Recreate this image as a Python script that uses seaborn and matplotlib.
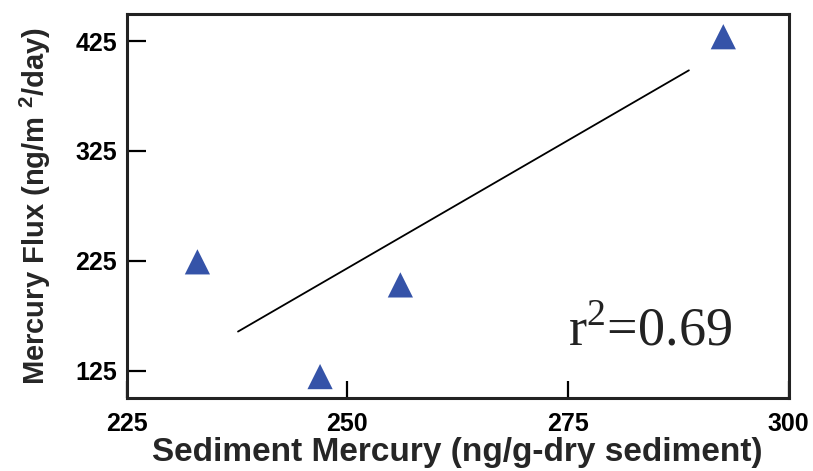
import matplotlib
matplotlib.use("Agg")
import matplotlib.pyplot as plt
import pandas as pd
import seaborn as sns

# Data
sediment_hg = [233.0, 246.9, 256.0, 292.6]
hg_flux = [224.0, 119.5, 203.0, 429.0]
fit_x = [237.6, 288.7]
fit_y = [160.5, 398.4]
x_ticks = [225, 250, 275, 300]
y_ticks = [125, 225, 325, 425]
r2_text = "r$^2$=0.69"

df = pd.DataFrame({"x": sediment_hg, "y": hg_flux})
df_fit = pd.DataFrame({"x": fit_x, "y": fit_y})

sns.set_style("white")
plt.rcParams["font.family"] = ["Liberation Sans", "DejaVu Sans"]
plt.rcParams["mathtext.fontset"] = "custom"
plt.rcParams["mathtext.rm"] = "Liberation Serif"
plt.rcParams["mathtext.bf"] = "Liberation Sans:bold"

fig = plt.figure(figsize=(8.13, 4.71), dpi=100)
ax = fig.add_axes([0.156, 0.155, 0.814, 0.816])

sns.lineplot(data=df_fit, x="x", y="y", ax=ax, color="black", linewidth=1.3)
sns.scatterplot(data=df, x="x", y="y", ax=ax, marker="^", s=330,
                color="#3553a8", edgecolor="none", zorder=3)

ax.set_xlim(225, 300)
ax.set_ylim(100, 450)
ax.set_xticks(x_ticks)
ax.set_yticks(y_ticks)
ax.tick_params(axis="both", direction="in", width=1.6,
               labelsize=18, colors="black", bottom=True, left=True,
               top=False, right=False)
ax.tick_params(axis="x", pad=10, length=12)
ax.tick_params(axis="y", pad=7, length=14)
for lab in ax.get_xticklabels() + ax.get_yticklabels():
    lab.set_fontweight("bold")

for sp in ax.spines.values():
    sp.set_linewidth(2.2)
    sp.set_color("#222222")

ax.set_xlabel("Sediment Mercury (ng/g-dry sediment)", fontsize=24,
              fontweight="bold", labelpad=1)
ax.set_ylabel("Mercury Flux (ng/m $^{\\mathbf{2}}$/day)", fontsize=21,
              fontweight="bold", labelpad=16)

ax.text(275.0, 148, r2_text, fontsize=39, family="Liberation Serif",
        color="#222222")

fig.savefig("out.png", dpi=100)
